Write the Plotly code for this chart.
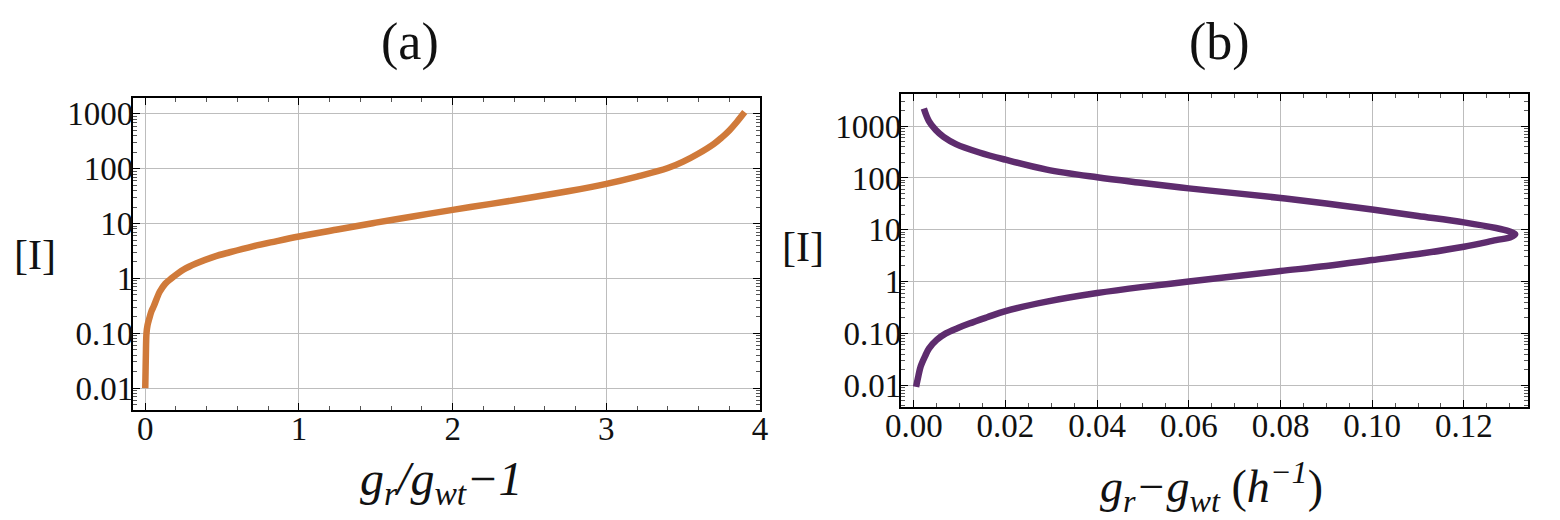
import plotly.graph_objects as go

# panel (a): [I] against g_r/g_wt - 1
ratio_x = [0, 0.002, 0.004, 0.008, 0.015, 0.025, 0.04, 0.055, 0.075, 0.094, 0.13,
           0.17, 0.25, 0.33, 0.45, 0.55, 0.7, 0.85, 1.0, 1.25, 1.5, 1.75, 2.0,
           2.25, 2.5, 2.75, 3.0, 3.2, 3.4, 3.5, 3.6, 3.7, 3.75, 3.8, 3.85, 3.9]
ratio_I = [0.01, 0.02, 0.04, 0.1, 0.14, 0.18, 0.25, 0.31, 0.43, 0.57, 0.8,
           1.0, 1.45, 1.87, 2.5, 3.0, 3.85, 4.75, 5.8, 7.8, 10.4, 13.6, 17.8,
           22.9, 29.6, 38.9, 53, 72, 103, 135, 190, 285, 370, 500, 720, 1080]

# panel (b): [I] against g_r - g_wt (h^-1), lower branch then upper branch
diff_x = [0.0005, 0.001, 0.0015, 0.0025, 0.0033, 0.005, 0.007, 0.0095, 0.0121,
          0.016, 0.02, 0.029, 0.04, 0.05, 0.06, 0.07, 0.08, 0.09, 0.10, 0.11,
          0.12, 0.127, 0.1302, 0.1312,
          0.1299, 0.127, 0.12, 0.11, 0.10, 0.09, 0.08, 0.07, 0.06, 0.05, 0.04,
          0.029, 0.02, 0.0143, 0.0092, 0.0065, 0.0048, 0.0033, 0.0022]
diff_I = [0.0093, 0.015, 0.023, 0.037, 0.051, 0.075, 0.1, 0.126, 0.155,
          0.205, 0.27, 0.41, 0.6, 0.79, 1.0, 1.27, 1.6, 2.0, 2.6, 3.4,
          4.7, 6.3, 7.2, 8.2,
          9.3, 10.8, 13.9, 18.5, 24.6, 32, 41, 51, 63, 80, 103,
          145, 225, 310, 450, 620, 840, 1250, 2190]

y_ticks = [0.01, 0.1, 1, 10, 100, 1000]
y_labels = ["0.01", "0.10", "1", "10", "100", "1000"]
a_ticks = [0, 1, 2, 3, 4]
b_ticks = [0.0, 0.02, 0.04, 0.06, 0.08, 0.10, 0.12]
b_labels = ["0.00", "0.02", "0.04", "0.06", "0.08", "0.10", "0.12"]

minor_log = [m * 10 ** k for k in range(-3, 4) for m in range(2, 10)]

FONT = "Liberation Serif"
ORANGE = "#D07A3A"
PURPLE = "#5E2C6E"

fig = go.Figure()
fig.add_trace(go.Scatter(x=ratio_x, y=ratio_I, mode="lines",
                         line=dict(color=ORANGE, width=6.5, shape="spline", smoothing=1.0),
                         xaxis="x", yaxis="y", showlegend=False))
fig.add_trace(go.Scatter(x=diff_x, y=diff_I, mode="lines",
                         line=dict(color=PURPLE, width=6.5, shape="spline", smoothing=1.0),
                         xaxis="x2", yaxis="y2", showlegend=False))

common = dict(showline=True, linecolor="black", linewidth=2, mirror="ticks",
              ticks="inside", ticklen=7, tickcolor="black", tickwidth=1,
              showgrid=True, gridcolor="#bdbdbd", gridwidth=1.3,
              zeroline=False, automargin=False,
              tickfont=dict(family=FONT, size=33, color="#111"))
xcommon = dict(common, ticklabelstandoff=-12)
ycommon = dict(common, ticklabelstandoff=-9)

fig.update_layout(
    width=1560, height=520,
    margin=dict(l=0, r=0, t=0, b=0),
    paper_bgcolor="white", plot_bgcolor="white",
    xaxis=dict(domain=[0.0801, 0.4821], anchor="y", range=[-0.08, 4.0],
               tickvals=a_ticks, ticktext=[str(t) for t in a_ticks],
               minor=dict(dtick=0.2, ticks="inside", ticklen=4, tickcolor="#555", showgrid=False),
               **xcommon),
    yaxis=dict(domain=[0.2269, 0.8269], anchor="x", type="log", range=[-2.40, 3.29],
               tickvals=y_ticks, ticktext=y_labels,
               minor=dict(tickvals=minor_log, ticks="inside", ticklen=4, tickcolor="#555", showgrid=False),
               **ycommon),
    xaxis2=dict(domain=[0.5724, 0.9744], anchor="y2", range=[-0.0028, 0.134],
                tickvals=b_ticks, ticktext=b_labels,
                minor=dict(dtick=0.005, ticks="inside", ticklen=4, tickcolor="#555", showgrid=False),
                **xcommon),
    yaxis2=dict(domain=[0.2327, 0.8346], anchor="x2", type="log", range=[-2.42, 3.62],
                tickvals=y_ticks, ticktext=y_labels,
                minor=dict(tickvals=minor_log, ticks="inside", ticklen=4, tickcolor="#555", showgrid=False),
                **ycommon),
)

notes = [
    dict(text="(a)", x=0.2577, y=0.935, size=52),
    dict(text="(b)", x=0.7769, y=0.935, size=52),
    dict(text="[I]", x=0.0173, y=0.525, size=42),
    dict(text="[I]", x=0.5096, y=0.54, size=42),
    dict(text="<i>g<sub>r</sub>/g<sub>wt</sub>\u22121</i>", x=0.2782, y=0.088, size=48),
    dict(text="<i>g<sub>r</sub>\u2212g<sub>wt</sub></i> (<i>h</i><sup><i>\u22121</i></sup>)",
         x=0.7712, y=0.08, size=46),
]
for n in notes:
    fig.add_annotation(text=n["text"], x=n["x"], y=n["y"], xref="paper", yref="paper",
                       showarrow=False, xanchor="center", yanchor="middle",
                       font=dict(family=FONT, size=n["size"], color="#111"))

fig.write_html("out.html")
